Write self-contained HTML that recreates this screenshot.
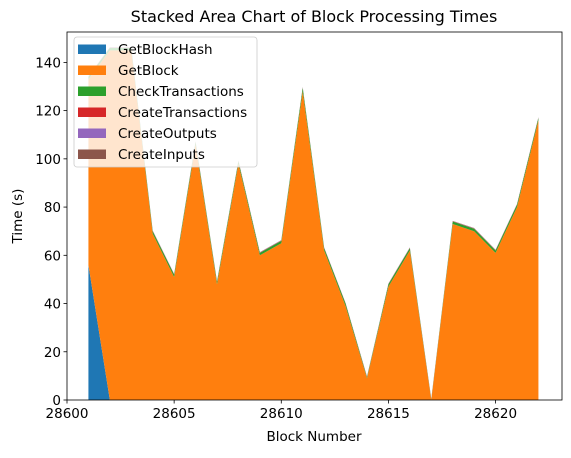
<!DOCTYPE html>
<html><head><meta charset="utf-8"><style>
body{margin:0;background:#fff}
svg{font-family:"DejaVu Sans","Liberation Sans",sans-serif}
</style></head><body>
<svg id="chart" width="571" height="453">
<text x="314" y="22" text-anchor="middle" font-size="16">Stacked Area Chart of Block Processing Times</text>
<g id="layers"></g>
<g id="axes"></g>
<text x="314" y="441" text-anchor="middle" font-size="13.5">Block Number</text>
<text transform="translate(22,216) rotate(-90)" text-anchor="middle" font-size="13.5">Time (s)</text>
<g id="legend"></g>
</svg>
<script>
const blocks=[28601,28602,28603,28604,28605,28606,28607,28608,28609,28610,28611,28612,28613,28614,28615,28616,28617,28618,28619,28620,28621,28622];
const getBlockHash=[56,0,0,0,0,0,0,0,0,0,0,0,0,0,0,0,0,0,0,0,0,0];
const getBlock=[77,145,145,69,51,106,48,98,60,65,128,62,39,9,47,62,0,73,70,61,80,116];
const checkTransactions=[1,1,1,1,1,1,1,1,1,1,1.5,1,1,0.5,1,1,0.3,1,1,1,1,1];
const createTransactions=[0.1,0.1,0.1,0.1,0.1,0.1,0.1,0.1,0.1,0.1,0.1,0.1,0.1,0.1,0.1,0.1,0.1,0.1,0.1,0.1,0.1,0.1];
const createOutputs=[0.1,0.1,0.1,0.1,0.1,0.1,0.1,0.1,0.1,0.1,0.1,0.1,0.1,0.1,0.1,0.1,0.1,0.1,0.1,0.1,0.1,0.1];
const createInputs=[0.1,0.1,0.1,0.1,0.1,0.1,0.1,0.1,0.1,0.1,0.1,0.1,0.1,0.1,0.1,0.1,0.1,0.1,0.1,0.1,0.1,0.1];
const seriesNames=["GetBlockHash","GetBlock","CheckTransactions","CreateTransactions","CreateOutputs","CreateInputs"];
const seriesValues=[getBlockHash,getBlock,checkTransactions,createTransactions,createOutputs,createInputs];
const colors=["#1f77b4","#ff7f0e","#2ca02c","#d62728","#9467bd","#8c564b"];
const xTicks=[28600,28605,28610,28615,28620];
const yTicks=[0,20,40,60,80,100,120,140];

const L=67,R=562,T=32,B=400,X0=28600,X1=28623.1,Y0=0,Y1=152.6;
const sx=v=>L+(v-X0)/(X1-X0)*(R-L);
const sy=v=>B-(v-Y0)/(Y1-Y0)*(B-T);
const NS="http://www.w3.org/2000/svg";
function mk(tag,attrs,parent){const e=document.createElementNS(NS,tag);for(const k in attrs)e.setAttribute(k,attrs[k]);parent.appendChild(e);return e;}
const layers=document.getElementById('layers');
let base=blocks.map(()=>0);
seriesValues.forEach((vals,i)=>{
  const top=base.map((b,j)=>b+vals[j]);
  let d='M'+blocks.map((b,j)=>sx(b)+','+sy(top[j])).join('L');
  for(let j=blocks.length-1;j>=0;j--) d+='L'+sx(blocks[j])+','+sy(base[j]);
  const p=mk('path',{d:d+'Z',fill:colors[i]},layers);
  
  
  base=top;
});
const ax=document.getElementById('axes');
const frame=mk('rect',{x:L,y:T,width:R-L,height:B-T,fill:'none',stroke:'#000','stroke-width':0.8},ax);


xTicks.forEach(t=>{
  mk('line',{x1:sx(t),x2:sx(t),y1:B,y2:B+3.5,stroke:'#000','stroke-width':0.8},ax);
  const tx=mk('text',{x:sx(t),y:B+18,'text-anchor':'middle','font-size':13.5},ax);
  tx.textContent=t;
  
  
});
yTicks.forEach(t=>{
  mk('line',{x1:L-3.5,x2:L,y1:sy(t),y2:sy(t),stroke:'#000','stroke-width':0.8},ax);
  const tx=mk('text',{x:L-6,y:sy(t)+5,'text-anchor':'end','font-size':13.5},ax);
  tx.textContent=t;
  
  
});
const lg=document.getElementById('legend');
const box=mk('rect',{x:74,y:37,width:183,height:130,rx:3,fill:'#fff','fill-opacity':0.8,stroke:'#ccc','stroke-width':0.8},lg);


seriesNames.forEach((n,i)=>{
  const y=49+i*21;
  const g=mk('g',{},lg);
  
  
  mk('rect',{x:78,y:y-4.5,width:28,height:9.5,fill:colors[i]},g);
  const t=mk('text',{x:118,y:y+5,'font-size':13.5},g);
  t.textContent=n;
});
</script>
</body></html>
